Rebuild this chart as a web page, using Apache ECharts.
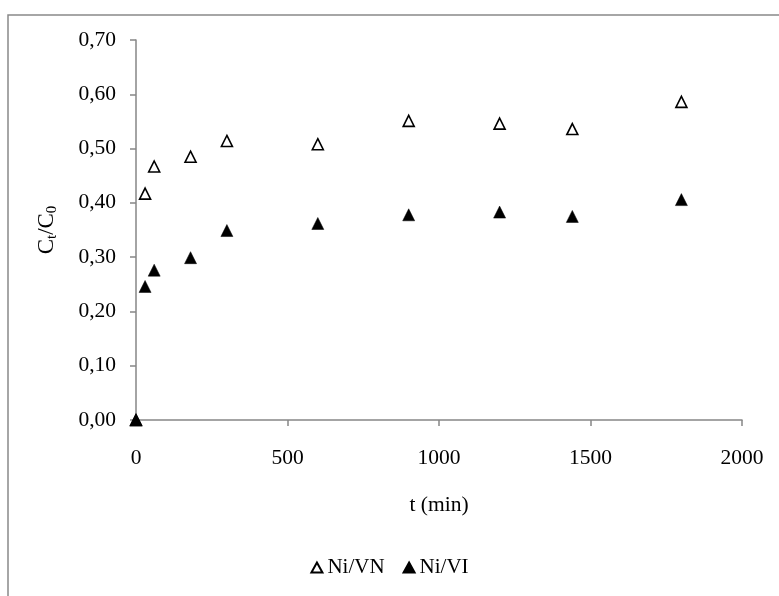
<!DOCTYPE html>
<html>
<head>
<meta charset="utf-8">
<script src="https://cdn.jsdelivr.net/npm/echarts@6/dist/echarts.min.js"></script>
<style>html,body{margin:0;padding:0;background:#fff}#c{width:779px;height:596px}</style>
</head>
<body>
<div id="c"></div>
<script>
var times = [0, 30, 60, 180, 300, 600, 900, 1200, 1440, 1800];
var niVN = [0, 0.417, 0.467, 0.485, 0.514, 0.508, 0.551, 0.546, 0.536, 0.586];
var niVI = [0, 0.246, 0.276, 0.299, 0.349, 0.362, 0.378, 0.383, 0.375, 0.406];
var seriesNames = ['Ni/VN', 'Ni/VI'];
var xTitle = 't (min)';

function pairs(xs, ys){ return xs.map(function(x,i){ return [x, ys[i]]; }); }

var font = '"Liberation Serif", "Times New Roman", serif';
var axisColor = '#868686';
var fs = 21.5;
var chart = echarts.init(document.getElementById('c'));
chart.setOption({
  animation: false,
  backgroundColor: '#fff',
  textStyle: { fontFamily: font, color: '#000' },
  graphic: [{
    type: 'rect', silent: true,
    shape: { x: 8, y: 15, width: 900, height: 700 },
    style: { fill: 'none', stroke: '#898989', lineWidth: 1.5 }
  }],
  grid: { left: 136, right: 37, top: 40, bottom: 176, containLabel: false },
  legend: {
    data: seriesNames,
    bottom: 13, left: 'center',
    itemWidth: 11, itemHeight: 10, itemGap: 18,
    icon: 'triangle',
    textStyle: { fontFamily: font, fontSize: 21, color: '#000', padding: [0,0,0,0] }
  },
  xAxis: {
    type: 'value', min: 0, max: 2000, interval: 500,
    name: xTitle, nameLocation: 'middle', nameGap: 74,
    nameTextStyle: { fontFamily: font, fontSize: fs, color: '#000' },
    axisLine: { show: true, lineStyle: { color: axisColor, width: 1.5 } },
    axisTick: { show: true, inside: false, length: 6, lineStyle: { color: axisColor, width: 1.5 } },
    axisLabel: { fontFamily: font, fontSize: fs, color: '#000', margin: 27,
      formatter: function(v){ return String(v); } },
    splitLine: { show: false }
  },
  yAxis: {
    type: 'value', min: 0, max: 0.7, interval: 0.1,
    name: '{a|C}{s|t}{a|/C}{s|0}', nameLocation: 'middle', nameGap: 76, nameRotate: 90,
    nameTextStyle: {
      fontFamily: font, color: '#000',
      rich: {
        a: { fontFamily: font, fontSize: 23, color: '#000' },
        s: { fontFamily: font, fontSize: 15, color: '#000', padding: [12, 0, 0, 0] }
      }
    },
    axisLine: { show: true, lineStyle: { color: axisColor, width: 1.5 } },
    axisTick: { show: true, inside: false, length: 6, lineStyle: { color: axisColor, width: 1.5 } },
    axisLabel: {
      fontFamily: font, fontSize: fs, color: '#000', margin: 20,
      formatter: function(v){ return v.toFixed(2).replace('.', ','); }
    },
    splitLine: { show: false }
  },
  series: [
    {
      name: seriesNames[0], type: 'scatter', symbol: 'triangle', symbolSize: [11, 11],
      data: pairs(times, niVN),
      itemStyle: { color: '#fff', borderColor: '#000', borderWidth: 1.6, opacity: 1 },
      z: 2
    },
    {
      name: seriesNames[1], type: 'scatter', symbol: 'triangle', symbolSize: [12, 12],
      data: pairs(times, niVI),
      itemStyle: { color: '#000', borderColor: '#000', borderWidth: 0.5, opacity: 1 },
      z: 3
    }
  ]
});
</script>
</body>
</html>
